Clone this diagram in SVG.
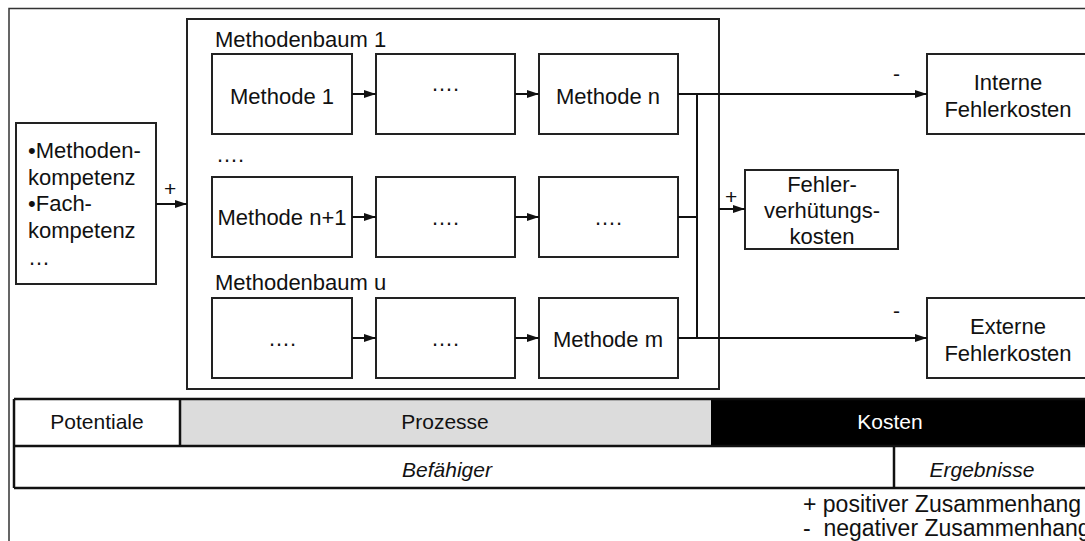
<svg xmlns="http://www.w3.org/2000/svg" width="1085" height="541" viewBox="0 0 1085 541">
<defs>
<marker id="ah" viewBox="0 0 12 8" refX="12" refY="4" markerWidth="12" markerHeight="8" markerUnits="userSpaceOnUse" orient="auto">
<path d="M0,0 L12,4 L0,8 Z" fill="#111"/>
</marker>
<style>
text{font-family:"Liberation Sans",Arial,sans-serif;font-size:22px;fill:#111}
.c{text-anchor:middle}
.box{fill:#fff;stroke:#222;stroke-width:2}
.ln{fill:none;stroke:#111;stroke-width:2}
.tb{stroke:#111;stroke-width:2.5}
.t21{font-size:21px}
.lg{font-size:23px}
.it{font-style:italic}
</style>
</defs>
<rect x="0" y="0" width="1085" height="541" fill="#fff"/>
<rect x="9" y="8.5" width="1100" height="560" fill="none" stroke="#333" stroke-width="1.5"/>

<g id="container">
<rect x="187" y="19" width="532" height="370" class="box"/>
<text x="215" y="47">Methodenbaum 1</text>
<text x="216" y="162">….</text>
<text x="215" y="290">Methodenbaum u</text>
</g>

<g id="kompetenz">
<rect x="16" y="123" width="140" height="161" class="box"/>
<text x="28" y="158">•Methoden-</text>
<text x="28" y="185">kompetenz</text>
<text x="28" y="211">•Fach-</text>
<text x="28" y="238">kompetenz</text>
<text x="28" y="265">…</text>
</g>

<g id="m1"><rect x="212" y="54" width="140" height="80" class="box"/><text class="c" x="282" y="104">Methode 1</text></g>
<g id="m1b"><rect x="376" y="54" width="139" height="80" class="box"/><text class="c" x="445" y="91">….</text></g>
<g id="mn"><rect x="539" y="54" width="139" height="80" class="box"/><text class="c" x="608" y="104">Methode n</text></g>

<g id="mn1"><rect x="212" y="177" width="140" height="80" class="box"/><text class="c" x="282" y="225">Methode n+1</text></g>
<g id="m2b"><rect x="376" y="177" width="139" height="80" class="box"/><text class="c" x="445" y="225">….</text></g>
<g id="m2c"><rect x="539" y="177" width="139" height="80" class="box"/><text class="c" x="608" y="225">….</text></g>

<g id="m3a"><rect x="212" y="298" width="140" height="80" class="box"/><text class="c" x="282" y="346">….</text></g>
<g id="m3b"><rect x="376" y="298" width="139" height="80" class="box"/><text class="c" x="445" y="346">….</text></g>
<g id="mm"><rect x="539" y="298" width="139" height="80" class="box"/><text class="c" x="608" y="347">Methode m</text></g>

<g id="interne"><rect x="927" y="54" width="170" height="80" class="box"/><text class="c" x="1008" y="90">Interne</text><text class="c" x="1008" y="117">Fehlerkosten</text></g>
<g id="externe"><rect x="927" y="298" width="170" height="80" class="box"/><text class="c" x="1008" y="334">Externe</text><text class="c" x="1008" y="361">Fehlerkosten</text></g>
<g id="verhuetung"><rect x="745" y="170" width="153" height="79" class="box"/><text class="c" x="822" y="192">Fehler-</text><text class="c" x="822" y="218">verhütungs-</text><text class="c" x="822" y="244">kosten</text></g>

<g id="connectors">
<line class="ln" x1="156" y1="204" x2="187" y2="204" marker-end="url(#ah)"/>
<line class="ln" x1="352" y1="94" x2="376" y2="94" marker-end="url(#ah)"/>
<line class="ln" x1="515" y1="94" x2="539" y2="94" marker-end="url(#ah)"/>
<line class="ln" x1="352" y1="217" x2="376" y2="217" marker-end="url(#ah)"/>
<line class="ln" x1="515" y1="217" x2="539" y2="217" marker-end="url(#ah)"/>
<line class="ln" x1="352" y1="338" x2="376" y2="338" marker-end="url(#ah)"/>
<line class="ln" x1="515" y1="338" x2="539" y2="338" marker-end="url(#ah)"/>
<line class="ln" x1="678" y1="94" x2="927" y2="94" marker-end="url(#ah)"/>
<line class="ln" x1="678" y1="338" x2="927" y2="338" marker-end="url(#ah)"/>
<line class="ln" x1="678" y1="217" x2="697" y2="217"/>
<line class="ln" x1="697" y1="94" x2="697" y2="338"/>
<line class="ln" x1="719" y1="209" x2="745" y2="209" marker-end="url(#ah)"/>
<text x="164" y="196" class="t21">+</text>
<text x="725" y="204" class="t21">+</text>
<text x="893" y="81" class="t21">-</text>
<text x="893" y="318" class="t21">-</text>
</g>

<g id="table">
<rect x="14" y="399" width="166" height="47" fill="#fff"/>
<rect x="180" y="399" width="531" height="47" fill="#dcdcdc"/>
<rect x="711" y="399" width="380" height="47" fill="#000"/>
<line class="tb" x1="14" y1="399" x2="1090" y2="399"/>
<line class="tb" x1="14" y1="446" x2="1090" y2="446"/>
<line class="tb" x1="14" y1="488" x2="1090" y2="488"/>
<line class="tb" x1="14" y1="399" x2="14" y2="488"/>
<line class="tb" x1="180" y1="399" x2="180" y2="446"/>
<line class="tb" x1="894" y1="446" x2="894" y2="488"/>
<text class="c t21" x="97" y="429">Potentiale</text>
<text class="c t21" x="445" y="429">Prozesse</text>
<text class="c t21" x="890" y="429" style="fill:#fff">Kosten</text>
<text class="c t21 it" x="447" y="477">Befähiger</text>
<text class="c t21 it" x="982" y="477">Ergebnisse</text>
</g>

<g id="legend">
<text class="lg" x="803" y="512">+ positiver Zusammenhang</text>
<text class="lg" x="803" y="536" xml:space="preserve">-  negativer Zusammenhang</text>
</g>
</svg>
